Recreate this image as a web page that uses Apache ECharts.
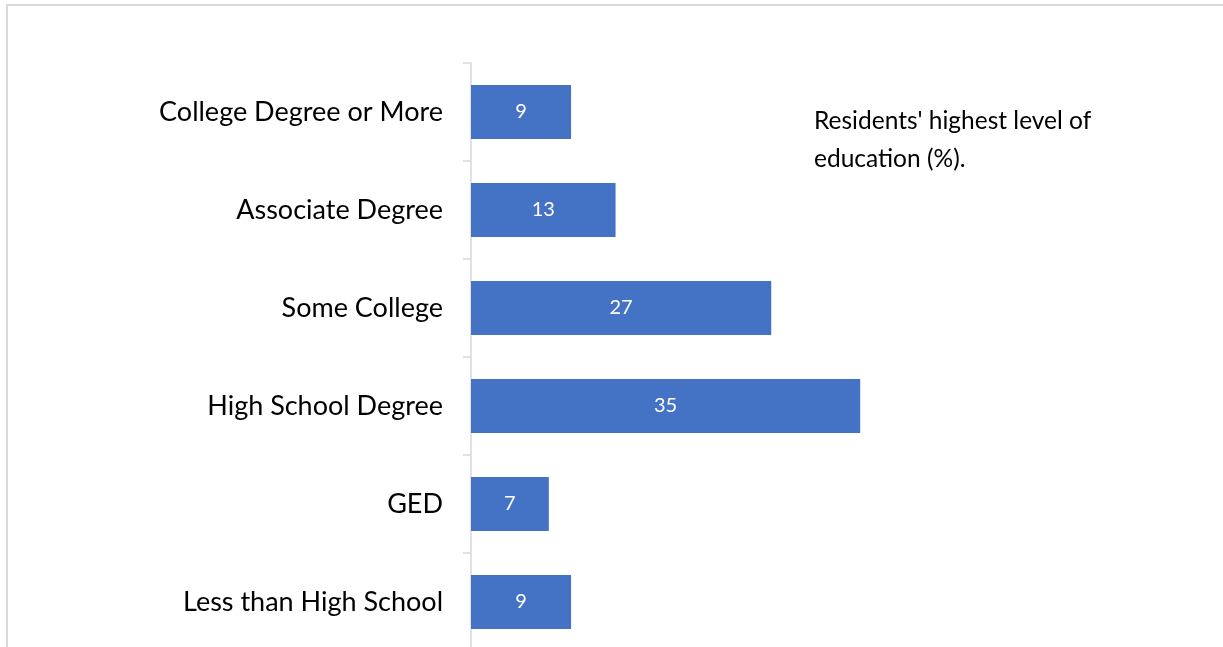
<!DOCTYPE html>
<html>
<head>
<meta charset="utf-8">
<script src="https://cdn.jsdelivr.net/npm/echarts@6/dist/echarts.min.js"></script>
<style>
  html, body { margin: 0; padding: 0; background: #fff; overflow: hidden; }
  #chart { width: 1223px; height: 660px; }
</style>
</head>
<body>
<div id="chart"></div>
<script>
// Education levels, listed bottom-to-top as drawn on the category axis
const categories = [
  'Less than High School',
  'GED',
  'High School Degree',
  'Some College',
  'Associate Degree',
  'College Degree or More'
];
const shares = [9, 7, 35, 27, 13, 9];
const noteLines = ["Residents' highest level of", 'education (%).'];

const chart = echarts.init(document.getElementById('chart'));
const xMax = 50;
const pxPerUnit = 11.12;

chart.setOption({
  animation: false,
  grid: { left: 471, top: 63, width: xMax * pxPerUnit, height: 588, containLabel: false },
  xAxis: {
    type: 'value', min: 0, max: xMax, show: false
  },
  yAxis: {
    type: 'category',
    data: categories,
    axisLine: { show: true, lineStyle: { color: '#d9d9d9', width: 1.5 } },
    axisTick: { show: true, length: 8, lineStyle: { color: '#d9d9d9', width: 1.5 } },
    axisLabel: {
      color: '#000', fontFamily: 'Lato', fontSize: 27, margin: 28
    },
    splitLine: { show: false }
  },
  series: [{
    type: 'bar',
    data: shares,
    barCategoryGap: '45%',
    itemStyle: { color: '#4472C4' },
    label: {
      show: true, position: 'inside', color: '#fff',
      fontFamily: 'Lato', fontSize: 20
    }
  }],
  graphic: [
    {
      type: 'polyline',
      shape: { points: [[7, 660], [7, 5], [1223, 5]] },
      style: { stroke: '#d9d9d9', lineWidth: 2, fill: null },
      silent: true
    },
    {
      type: 'text',
      left: 814, top: 102,
      style: {
        text: noteLines.join('\n'),
        fontFamily: 'Lato', fontSize: 24.5, lineHeight: 38, fill: '#000'
      }
    }
  ]
});
</script>
</body>
</html>
